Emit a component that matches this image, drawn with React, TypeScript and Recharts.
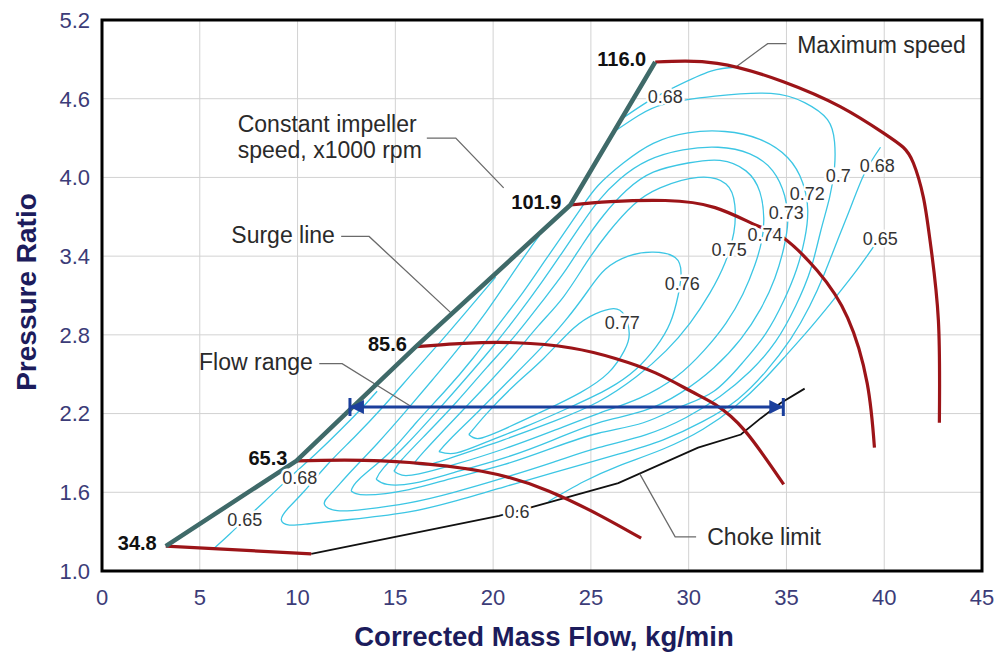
import React from 'react';
import { ComposedChart, Line, XAxis, YAxis, CartesianGrid, Scatter, ReferenceArea } from 'recharts';

const FONT = '"Liberation Sans", Arial, Helvetica, sans-serif';
const CYAN = '#3cc6e4';
const RED = '#9c1418';
const SURGE = '#3f6a69';
const BLUE = '#1b3f9c';
const LEADER = '#6a6a6a';

// axes
const xTicks = [0, 5, 10, 15, 20, 25, 30, 35, 40, 45];
const yTicks = [1.0, 1.6, 2.2, 2.8, 3.4, 4.0, 4.6, 5.2];

// constant impeller speed lines (x1000 rpm)
const speedValues = ['34.8', '65.3', '85.6', '101.9', '116.0'];
const surgeLine: number[][] = [[3.26, 1.19], [9.94, 1.84], [16.05, 2.71], [23.95, 3.79], [28.29, 4.88]];
const speed348: number[][] = [[3.26, 1.19], [10.7, 1.13]];
const speed653: number[][] = [[9.94, 1.84], [14.32, 1.84], [19.42, 1.76], [22.83, 1.61], [25.38, 1.43], [27.57, 1.25]];
const speed856: number[][] = [[16.05, 2.71], [18.5, 2.735], [21.15, 2.74], [24.0, 2.7], [26.25, 2.62], [28.3, 2.51], [30.12, 2.37], [31.35, 2.27], [32.87, 2.07], [34.86, 1.66]];
const speed1019: number[][] = [[23.95, 3.79], [26.0, 3.815], [28.8, 3.824], [31.35, 3.77], [33.54, 3.63], [34.84, 3.54], [36.57, 3.29], [38.13, 2.93], [39.13, 2.43], [39.5, 1.94]];
const speed1160: number[][] = [[28.29, 4.88], [31.46, 4.87], [34.84, 4.73], [37.75, 4.54], [39.95, 4.34], [40.97, 4.23], [41.49, 4.11], [42.0, 3.85], [42.36, 3.5], [42.77, 2.91], [42.82, 2.13]];

// choke limit (0.6)
const chokeLine: number[][] = [[10.7, 1.13], [20.3, 1.42], [21.8, 1.48], [26.4, 1.67], [30.48, 1.94], [32.67, 2.04], [33.69, 2.165], [34.71, 2.28], [35.93, 2.39]];

// flow range at PR 2.25
const flowRange: number[][] = [[12.68, 2.25], [34.84, 2.25]];

// efficiency contours
const eff077: number[][] = [[18.76, 2.04], [19.67, 2.2], [21.05, 2.41], [22.58, 2.62], [24.11, 2.85], [25.23, 2.96], [26.15, 3.0], [26.71, 2.95], [26.96, 2.81], [26.71, 2.68], [25.89, 2.51], [24.46, 2.36], [22.58, 2.22], [20.54, 2.08], [19.27, 2.01], [18.76, 2.04]];
const eff076: number[][] = [[17.23, 1.91], [17.84, 2.01], [19.27, 2.22], [20.8, 2.45], [22.32, 2.68], [23.7, 2.91], [24.87, 3.14], [25.74, 3.3], [26.91, 3.4], [28.19, 3.43], [29.31, 3.39], [29.61, 3.27], [29.46, 3.1], [29.05, 2.89], [28.34, 2.71], [27.32, 2.54], [25.89, 2.39], [23.96, 2.25], [21.81, 2.11], [19.78, 1.99], [18.14, 1.9], [17.23, 1.91]];
const eff075: number[][] = [[15.95, 1.82], [16.46, 1.91], [17.84, 2.13], [19.37, 2.37], [20.9, 2.62], [22.32, 2.87], [23.6, 3.09], [24.77, 3.35], [25.89, 3.58], [27.17, 3.79], [28.54, 3.92], [30.48, 4.0], [31.91, 3.95], [32.36, 3.79], [32.31, 3.58], [31.86, 3.35], [31.09, 3.12], [30.07, 2.89], [28.85, 2.68], [27.32, 2.48], [25.38, 2.29], [23.09, 2.14], [20.54, 2.0], [17.99, 1.87], [16.62, 1.81], [15.95, 1.82]];
const eff074: number[][] = [[14.93, 1.76], [15.34, 1.85], [16.62, 2.05], [18.14, 2.29], [19.67, 2.55], [21.1, 2.79], [22.43, 3.04], [23.6, 3.27], [24.62, 3.5], [25.64, 3.71], [26.81, 3.9], [28.19, 4.04], [29.97, 4.11], [31.6, 4.13], [32.93, 4.05], [33.64, 3.89], [33.84, 3.69], [33.74, 3.52], [33.38, 3.33], [32.77, 3.11], [31.91, 2.89], [30.78, 2.68], [29.36, 2.48], [27.52, 2.32], [25.38, 2.2], [23.09, 2.07], [20.54, 1.93], [17.99, 1.81], [16.21, 1.74], [15.34, 1.73], [14.93, 1.76]];
const eff073: number[][] = [[14.02, 1.7], [14.42, 1.79], [15.6, 1.97], [17.02, 2.2], [18.5, 2.45], [19.93, 2.7], [21.25, 2.95], [22.48, 3.2], [23.5, 3.42], [24.46, 3.63], [25.38, 3.82], [26.5, 3.99], [27.93, 4.13], [29.71, 4.21], [31.5, 4.23], [33.13, 4.18], [34.3, 4.05], [34.91, 3.86], [35.07, 3.67], [34.86, 3.46], [34.4, 3.23], [33.69, 3.0], [32.67, 2.77], [31.29, 2.55], [29.61, 2.36], [27.68, 2.22], [25.38, 2.13], [23.09, 2.0], [20.54, 1.86], [17.99, 1.75], [15.95, 1.67], [14.58, 1.66], [14.02, 1.7]];
const eff072: number[][] = [[12.74, 1.61], [13.15, 1.7], [14.68, 1.9], [16.06, 2.13], [17.53, 2.37], [18.96, 2.62], [20.29, 2.88], [21.51, 3.12], [22.58, 3.35], [23.6, 3.57], [24.52, 3.77], [25.38, 3.94], [26.66, 4.11], [28.19, 4.26], [29.97, 4.34], [31.86, 4.35], [33.64, 4.29], [35.07, 4.15], [35.83, 3.96], [36.09, 3.75], [35.93, 3.53], [35.52, 3.3], [34.86, 3.06], [33.94, 2.81], [32.77, 2.59], [31.29, 2.37], [29.56, 2.25], [27.68, 2.13], [25.38, 2.05], [23.09, 1.94], [20.54, 1.81], [17.99, 1.71], [15.7, 1.62], [13.51, 1.58], [12.74, 1.61]];
const eff070: number[][] = [[26.2, 4.35], [27.42, 4.47], [28.8, 4.56], [31.35, 4.62], [34.2, 4.64], [35.93, 4.57], [37.1, 4.44], [37.46, 4.27], [37.46, 4.08], [37.21, 3.85], [36.75, 3.59], [36.24, 3.3], [35.47, 3.02], [34.45, 2.75], [33.13, 2.52], [31.6, 2.33], [29.87, 2.17], [27.83, 2.04], [25.38, 1.94], [23.09, 1.83], [20.54, 1.71], [17.99, 1.6], [15.7, 1.52], [13.4, 1.47], [12.03, 1.46], [11.37, 1.51], [11.77, 1.6], [12.74, 1.76], [14.07, 1.97], [15.55, 2.22], [16.97, 2.47], [18.35, 2.72], [19.62, 2.97], [20.69, 3.2], [21.61, 3.4], [22.38, 3.56]];
const eff068Top: number[][] = [[26.61, 4.45], [27.93, 4.58], [29.31, 4.69], [31.14, 4.81], [32.4, 4.84]];
const eff068: number[][] = [[39.81, 4.23], [38.99, 4.03], [38.28, 3.77], [37.61, 3.52], [36.95, 3.27], [36.19, 3.02], [35.22, 2.77], [33.94, 2.52], [32.52, 2.31], [30.73, 2.14], [28.7, 2.0], [26.4, 1.89], [23.09, 1.75], [20.54, 1.64], [17.99, 1.53], [15.7, 1.45], [13.15, 1.4], [10.6, 1.36], [9.58, 1.35], [9.17, 1.39], [9.53, 1.48], [10.35, 1.61], [11.52, 1.81], [12.9, 2.02], [14.42, 2.26], [15.95, 2.52], [17.38, 2.76], [18.76, 3.0], [20.13, 3.24]];
const eff065Left: number[][] = [[5.71, 1.17], [6.52, 1.28], [7.29, 1.39], [8.31, 1.53], [9.58, 1.71], [10.91, 1.89], [12.23, 2.08], [13.4, 2.26], [14.07, 2.37]];
const eff065Right: number[][] = [[39.45, 3.47], [38.48, 3.27], [37.26, 3.04], [36.09, 2.83], [34.96, 2.64], [33.79, 2.45], [32.42, 2.26], [30.73, 2.08], [28.7, 1.93], [26.4, 1.8], [24.62, 1.68], [22.83, 1.53]];

const contours = [eff065Left, eff065Right, eff068Top, eff068, eff070, eff072, eff073, eff074, eff075, eff076, eff077];

// contour labels
const contourLabels = [
  { x: 28.8, y: 4.61, t: '0.68' },
  { x: 39.64, y: 4.09, t: '0.68' },
  { x: 37.65, y: 4.01, t: '0.7' },
  { x: 36.07, y: 3.87, t: '0.72' },
  { x: 34.99, y: 3.73, t: '0.73' },
  { x: 33.91, y: 3.56, t: '0.74' },
  { x: 32.07, y: 3.45, t: '0.75' },
  { x: 39.8, y: 3.53, t: '0.65' },
  { x: 29.67, y: 3.19, t: '0.76' },
  { x: 26.6, y: 2.89, t: '0.77' },
  { x: 10.11, y: 1.71, t: '0.68' },
  { x: 7.3, y: 1.39, t: '0.65' },
  { x: 21.22, y: 1.45, t: '0.6' },
];

// annotations
const notesStart = [
  { x: 35.55, y: 5.01, t: 'Maximum speed' },
  { x: 6.94, y: 4.41, t: 'Constant impeller' },
  { x: 6.94, y: 4.21, t: 'speed, x1000 rpm' },
  { x: 30.95, y: 1.26, t: 'Choke limit' },
];
const notesEnd = [
  { x: 11.91, y: 3.56, t: 'Surge line' },
  { x: 10.78, y: 2.59, t: 'Flow range' },
];
const leaders: number[][][] = [
  [[35.0, 5.02], [34.04, 5.02], [32.4, 4.84]],
  [[16.61, 4.3], [18.09, 4.3], [20.54, 3.92]],
  [[12.23, 3.55], [13.66, 3.55], [17.9, 2.96]],
  [[11.11, 2.58], [12.28, 2.58], [15.85, 2.25]],
  [[27.5, 1.74], [29.31, 1.26], [30.38, 1.26]],
];

const pts = (a: number[][]) => a.map(([x, y]) => ({ x, y }));
const speedLabelData = surgeLine.map(([x, y], i) => ({ x, y, t: speedValues[i] }));

const ContourLabel = (p: any) => (
  <text x={p.cx} y={p.cy} textAnchor="middle" dominantBaseline="central" fontSize={18}
    fontFamily={FONT} fill="#333" stroke="#fff" strokeWidth={5} paintOrder="stroke" strokeLinejoin="round">
    {p.payload.t}
  </text>
);
const SpeedLabel = (p: any) => (
  <text x={p.cx - 9} y={p.cy - 3} textAnchor="end" dominantBaseline="central" fontSize={20}
    fontWeight="bold" fontFamily={FONT} fill="#111">
    {p.payload.t}
  </text>
);
const NoteStart = (p: any) => (
  <text x={p.cx} y={p.cy} textAnchor="start" dominantBaseline="central" fontSize={23}
    fontFamily={FONT} fill="#2a2a2a">
    {p.payload.t}
  </text>
);
const NoteEnd = (p: any) => (
  <text x={p.cx} y={p.cy} textAnchor="end" dominantBaseline="central" fontSize={23}
    fontFamily={FONT} fill="#2a2a2a">
    {p.payload.t}
  </text>
);
const ArrowEnd = (p: any) => {
  const { cx, cy, index } = p;
  if (index === 0) {
    return (
      <g key="arrow-left">
        <polygon points={`${cx},${cy} ${cx + 14},${cy - 7} ${cx + 14},${cy + 7}`} fill={BLUE} />
        <line x1={cx} x2={cx} y1={cy - 9} y2={cy + 9} stroke={BLUE} strokeWidth={3} />
      </g>
    );
  }
  return (
    <g key="arrow-right">
      <polygon points={`${cx},${cy} ${cx - 14},${cy - 7} ${cx - 14},${cy + 7}`} fill={BLUE} />
      <line x1={cx} x2={cx} y1={cy - 9} y2={cy + 9} stroke={BLUE} strokeWidth={3} />
    </g>
  );
};

const tickStyle = { fontSize: 22, fill: '#3c3c78', fontFamily: FONT };

export default function App() {
  return (
    <div style={{ position: 'absolute', left: 0, top: 0, width: 1005, height: 655, background: '#fff' }}>
      <ComposedChart width={1005} height={655} margin={{ top: 20, right: 23, bottom: 0, left: 0 }}>
        <CartesianGrid stroke="#d2d2d2" strokeWidth={1} />
        <XAxis type="number" dataKey="x" domain={[0, 45]} ticks={xTicks} allowDataOverflow
          height={84} axisLine={false} tickLine={false} tickSize={0} tickMargin={18} tick={tickStyle} interval={0} />
        <YAxis type="number" domain={[1, 5.2]} ticks={yTicks} allowDataOverflow width={102}
          axisLine={false} tickLine={false} tickSize={0} tickMargin={12} tick={tickStyle} interval={0}
          tickFormatter={(v: number) => v.toFixed(1)} />
        {contours.map((c, i) => (
          <Line key={'c' + i} data={pts(c)} dataKey="y" type="natural" stroke={CYAN} strokeWidth={1.3}
            dot={false} activeDot={false} isAnimationActive={false} legendType="none" />
        ))}
        <Line data={pts(chokeLine)} dataKey="y" type="linear" stroke="#111" strokeWidth={1.8}
          dot={false} activeDot={false} isAnimationActive={false} legendType="none" />
        {leaders.map((l, i) => (
          <Line key={'l' + i} data={pts(l)} dataKey="y" type="linear" stroke={LEADER} strokeWidth={1.3}
            dot={false} activeDot={false} isAnimationActive={false} legendType="none" />
        ))}
        {[speed348, speed653, speed856, speed1019, speed1160].map((s, i) => (
          <Line key={'s' + i} data={pts(s)} dataKey="y" type="natural" stroke={RED} strokeWidth={3.2}
            dot={false} activeDot={false} isAnimationActive={false} legendType="none" />
        ))}
        <Line data={pts(surgeLine)} dataKey="y" type="linear" stroke={SURGE} strokeWidth={4.5}
          strokeLinejoin="round" dot={false} activeDot={false} isAnimationActive={false} legendType="none" />
        <Line data={pts(flowRange)} dataKey="y" type="linear" stroke={BLUE} strokeWidth={3}
          dot={ArrowEnd} activeDot={false} isAnimationActive={false} legendType="none" />
        <Scatter data={contourLabels} dataKey="y" shape={ContourLabel} isAnimationActive={false} legendType="none" />
        <Scatter data={speedLabelData} dataKey="y" shape={SpeedLabel} isAnimationActive={false} legendType="none" />
        <Scatter data={notesStart} dataKey="y" shape={NoteStart} isAnimationActive={false} legendType="none" />
        <Scatter data={notesEnd} dataKey="y" shape={NoteEnd} isAnimationActive={false} legendType="none" />
        <ReferenceArea x1={0} x2={45} y1={1} y2={5.2} fill="none" fillOpacity={0} stroke="#000" strokeWidth={3} ifOverflow="visible" />
      </ComposedChart>
      <div style={{ position: 'absolute', left: 0, width: 1088, top: 621, textAlign: 'center', fontFamily: FONT,
        fontWeight: 'bold', fontSize: 27.5, color: '#1c1c5c', lineHeight: '32px' }}>
        Corrected Mass Flow, kg/min
      </div>
      <div style={{ position: 'absolute', left: 27, top: 292, transform: 'translate(-50%, -50%) rotate(-90deg)',
        whiteSpace: 'nowrap', fontFamily: FONT, fontWeight: 'bold', fontSize: 28, color: '#1c1c5c', lineHeight: '32px' }}>
        Pressure Ratio
      </div>
    </div>
  );
}
